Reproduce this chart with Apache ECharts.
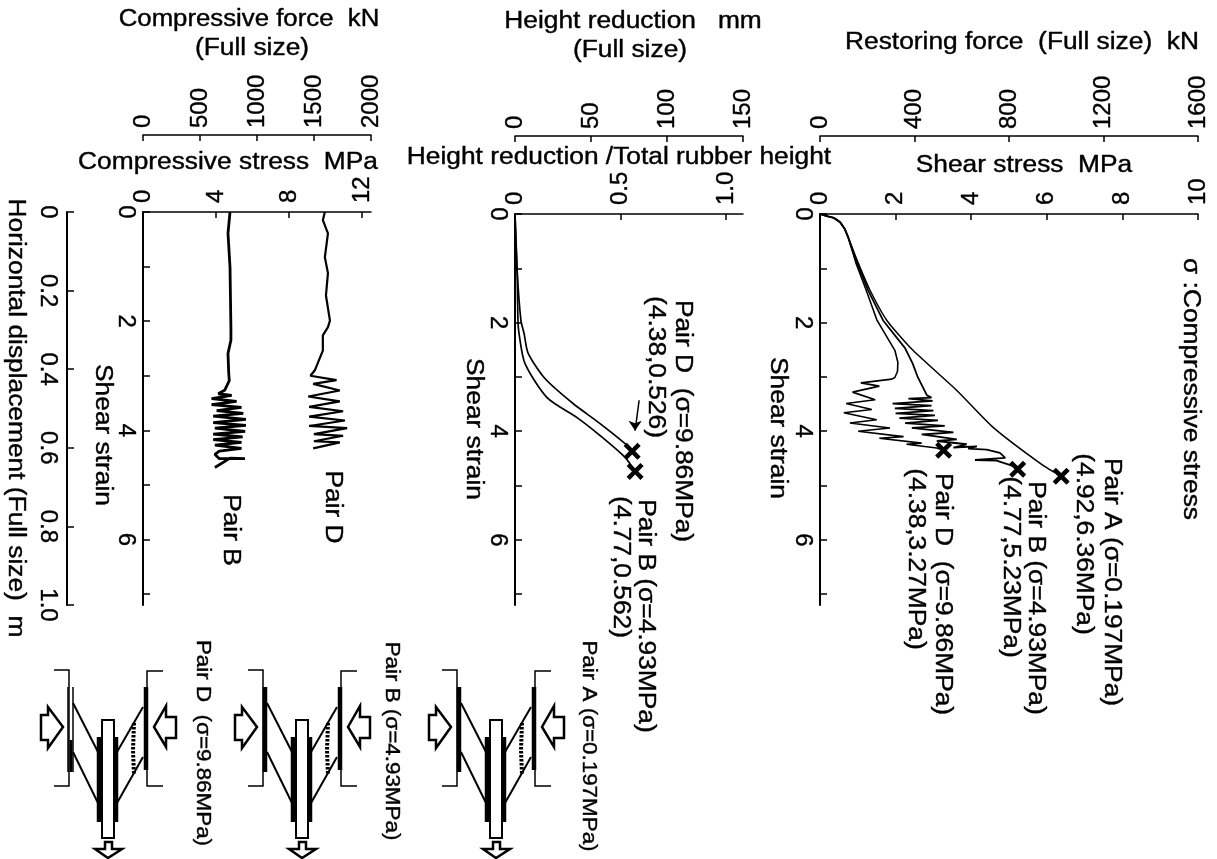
<!DOCTYPE html>
<html>
<head>
<meta charset="utf-8">
<title>Shear strain curves</title>
<style>
	html, body { margin: 0; padding: 0; background: #fff; }
	#main { width: 1217px; height: 859px; }
</style>
<script src="https://cdn.jsdelivr.net/npm/echarts@6/dist/echarts.min.js"></script>
</head>
<body>
<div id="main"></div>
<script>
// [shear stress MPa, shear strain]
var shearPairA = [[0,0],[.19,.04],[.36,.07],[.53,.15],[.65,.27],[.74,.42],[1.01,.9],[1.32,1.4],[1.77,1.96],[2.46,2.51],[3.62,3.25],[4.58,3.93],[5.9,4.63],[6.38,4.83]];
var shearPairB = [[0,0],[.19,.04],[.36,.07],[.53,.15],[.65,.27],[.74,.42],[.98,.9],[1.27,1.4],[1.67,1.96],[2.25,2.47],[2.45,2.75],[2.59,3.01],[2.83,3.34],[2.95,3.38],[2.34,3.4],[2.98,3.44],[1.92,3.49],[2.95,3.53],[1.98,3.58],[3,3.62],[2,3.67],[3.04,3.71],[2.1,3.76],[3.12,3.8],[2.25,3.85],[3.3,3.9],[2.43,3.94],[3.53,4.02],[2.69,4.06],[3.62,4.15],[3.09,4.18],[3.88,4.24],[3.53,4.3],[4.15,4.28],[3.92,4.32],[4.41,4.34],[4.76,4.4],[4.9,4.49],[4.1,4.53],[4.67,4.54],[5.16,4.65],[5.23,4.7]];
var shearPairD = [[0,0],[.19,.04],[.36,.07],[.53,.15],[.65,.27],[.74,.42],[.95,.9],[1.22,1.4],[1.51,1.96],[1.98,2.51],[2.06,2.73],[2.05,2.9],[1.98,3.01],[1.9,3.04],[1.08,3.11],[1.57,3.17],[.86,3.28],[1.46,3.42],[.69,3.49],[1.37,3.6],[.63,3.66],[1.5,3.79],[.79,3.85],[1.85,3.94],[1.01,4],[2.21,4.1],[1.57,4.13],[2.69,4.22],[2.29,4.24],[3.09,4.31],[3.27,4.35]];
var shearFailure = [[6.38,4.83],[5.23,4.7],[3.27,4.35]];

// [height reduction / total rubber height, shear strain]
var heightPairD = [[0,0],[.01,1.03],[.028,1.96],[.043,2.2],[.062,2.56],[.142,3.03],[.275,3.49],[.403,3.86],[.531,4.26],[.555,4.37]];
var heightPairB = [[0,0],[.01,1.03],[.014,1.96],[.019,2.2],[.047,2.75],[.152,3.38],[.294,3.75],[.403,4.08],[.521,4.48],[.569,4.74]];
var heightFailure = [[.555,4.37],[.569,4.74]];
var heightArrow = [[.588,3.43],[.569,3.99]];

// [compressive stress MPa, shear strain]
var compPairD = [[9.97,0],[9.86,.15],[10.14,.39],[9.97,.83],[10.14,1.12],[10.03,1.53],[10.25,1.99],[10.14,2.11],[9.86,2.26],[9.86,2.54],[9.42,2.9],[9.18,3],[10.61,3.08],[9.33,3.15],[10.79,3.27],[9.06,3.38],[10.79,3.47],[9.11,3.57],[10.97,3.65],[9.11,3.75],[11.07,3.82],[9.11,3.92],[11.19,3.96],[9.37,4.07],[10.97,4.1],[9.37,4.2],[10.79,4.22],[9.33,4.33]];
var compPairB = [[4.77,0],[4.66,.39],[4.77,1.01],[4.82,2.13],[4.82,2.35],[4.66,2.59],[4.7,2.95],[4.73,3.09],[4.49,3.26],[4.13,3.33],[4.86,3.36],[3.76,3.42],[5.13,3.47],[3.76,3.53],[5.4,3.58],[4.04,3.64],[5.5,3.69],[3.85,3.74],[5.64,3.8],[3.85,3.86],[5.64,3.91],[3.94,3.96],[5.6,4.02],[3.85,4.07],[5.46,4.12],[3.85,4.17],[5.4,4.22],[3.94,4.27],[5.4,4.33],[4.18,4.38],[3.94,4.44],[4.18,4.52],[5.59,4.52],[4.77,4.51],[3.94,4.68]];

// tick labels
var strainTicks = [0, 1, 2, 3, 4, 5, 6, 7];
var strainLabels = [0, 2, 4, 6];
var heightTicks = [0, 0.5, 1];
var compressiveTicks = [0, 4, 8, 12];

var FONT = '"Liberation Sans", Arial, sans-serif';
var CROSS = 'path://M0,3 L3,0 L8,5 L13,0 L16,3 L11,8 L16,13 L13,16 L8,11 L3,16 L0,13 L5,8 Z';

function plainNumber(v) {
	return String(v);
}

function decimalNumber(v) {
	return v === 0 ? '0' : v.toFixed(1);
}

function tickLabel(margin, extra) {
	var label = {
		rotate: -90,
		margin: margin,
		color: '#000',
		fontFamily: FONT,
		fontSize: 24,
		textBorderColor: '#000',
		textBorderWidth: 0.4,
		formatter: plainNumber
	};
	for (var k in extra) label[k] = extra[k];
	return label;
}

function topAxis(grid, max, interval, offset, ticks, formatter) {
	var labelExtra = {};
	var tick = { inside: true, length: 6, lineStyle: { color: '#000', width: 1.5 } };
	if (ticks) {
		tick.customValues = ticks;
		labelExtra.customValues = ticks;
	}
	if (formatter) labelExtra.formatter = formatter;
	return {
		type: 'value',
		gridIndex: grid,
		position: 'top',
		offset: offset,
		min: 0,
		max: max,
		interval: interval,
		splitLine: { show: false },
		axisLine: { onZero: false, lineStyle: { color: '#000', width: 1.5 } },
		axisTick: tick,
		axisLabel: tickLabel(offset ? 7 : 9, labelExtra)
	};
}

function strainAxis(grid) {
	return {
		type: 'value',
		gridIndex: grid,
		position: 'left',
		inverse: true,
		min: 0,
		max: 7.2,
		splitLine: { show: false },
		axisLine: { onZero: false, lineStyle: { color: '#000', width: 2 } },
		axisTick: { inside: true, length: 7, customValues: strainTicks, lineStyle: { color: '#000', width: 1.5 } },
		axisLabel: tickLabel(5, { customValues: strainLabels })
	};
}

function curve(x, y, data, width, smooth) {
	return {
		type: 'line',
		xAxisIndex: x,
		yAxisIndex: y,
		data: data,
		smooth: smooth || false,
		showSymbol: false,
		silent: true,
		animation: false,
		lineStyle: { color: '#000', width: width }
	};
}

function crosses(x, y, data) {
	return {
		type: 'scatter',
		xAxisIndex: x,
		yAxisIndex: y,
		data: data,
		symbol: CROSS,
		symbolSize: 17,
		silent: true,
		animation: false,
		itemStyle: { color: '#000', opacity: 1 }
	};
}

function txt(text, x, y, size, rotated) {
	return {
		type: 'text',
		x: x,
		y: y,
		rotation: rotated ? -Math.PI / 2 : 0,
		scaleX: 1.12,
		silent: true,
		style: {
			text: text,
			fill: '#000',
			stroke: '#000',
			lineWidth: 0.4,
			font: size + 'px ' + FONT,
			align: 'center',
			verticalAlign: 'middle',
			textAlign: 'center',
			textVerticalAlign: 'middle'
		}
	};
}

function poly(points, width, dx) {
	return {
		type: 'polyline',
		silent: true,
		x: dx,
		shape: { points: points },
		style: { stroke: '#000', lineWidth: width, fill: null }
	};
}

function hollow(points, dx) {
	return {
		type: 'polygon',
		silent: true,
		x: dx,
		shape: { points: points },
		style: { stroke: '#000', lineWidth: 2.5, fill: '#fff' }
	};
}

// schematic of the test pair, drawn around the pair D position and shifted by dx
function pairDiagram(dx, lightPlate) {
	var out = [
		poly([[54, 670], [69, 670], [69, 786], [54, 786]], 1.5, dx),
		poly([[163, 671], [147, 671], [147, 786], [163, 786]], 1.5, dx),
		poly([[73, 703], [98, 752]], 2, dx),
		poly([[73, 752], [98, 803]], 2, dx),
		poly([[143, 707], [117, 752]], 2, dx),
		poly([[143, 757], [117, 803]], 2, dx),
		poly([[99, 737], [99, 822]], 4.5, dx),
		poly([[116, 737], [116, 822]], 4.5, dx),
		{
			type: 'rect',
			silent: true,
			x: dx,
			shape: { x: 102, y: 720, width: 12, height: 118 },
			style: { stroke: '#000', lineWidth: 2, fill: '#fff' }
		},
		poly([[146, 687], [146, 770]], 4.5, dx),
		{
			type: 'polyline',
			silent: true,
			x: dx,
			shape: { points: [[134, 723], [133, 750], [134, 775]] },
			style: { stroke: '#000', lineWidth: 4, fill: null, lineDash: [2.5, 1.5] }
		},
		hollow([[41, 715], [48, 715], [48, 707], [63, 727], [48, 748], [48, 740], [41, 740]], dx),
		hollow([[176, 717], [166, 717], [166, 706], [154, 727], [166, 747], [166, 738], [176, 738]], dx),
		hollow([[105, 842], [112, 842], [112, 849], [122, 849], [108, 858], [95, 849], [105, 849]], dx)
	];
	if (lightPlate) {
		out.push(poly([[68, 687], [68, 772]], 1.5, dx));
		out.push(poly([[73, 687], [73, 772]], 1.5, dx));
		out.push(poly([[71, 740], [71, 772]], 3, dx));
	} else {
		out.push(poly([[71, 687], [71, 772]], 4.5, dx));
	}
	return out;
}

var texts = [
	txt('Restoring force  (Full size)  kN', 1022, 43, 23.5),
	txt('Shear stress  MPa', 1024, 166, 23.5),
	txt('\u03c3 :Compressive stress', 1190, 389, 23.5, true),
	txt('Pair A (\u03c3=0.197MPa)', 1111, 582, 23.5, true),
	txt('(4.92,6.36MPa)', 1083, 544, 23.5, true),
	txt('Pair B (\u03c3=4.93MPa)', 1035, 598, 23.5, true),
	txt('(4.77,5.23MPa)', 1010, 567, 23.5, true),
	txt('Pair D  (\u03c3=9.86MPa)', 942, 594, 23.5, true),
	txt('(4.38,3.27MPa)', 915, 559, 23.5, true),
	txt('Shear strain', 777, 428, 23.5, true),

	txt('Height reduction   mm', 633, 22, 23.5),
	txt('(Full size)', 630, 51, 23.5),
	txt('Height reduction /Total rubber height', 619, 158, 23.5),
	txt('Pair D  (\u03c3=9.86MPa)', 682, 421, 23.5, true),
	txt('(4.38,0.526)', 655, 367, 23.5, true),
	txt('Pair B (\u03c3=4.93MPa)', 645, 616, 23.5, true),
	txt('(4.77,0.562)', 620, 567, 23.5, true),
	txt('Shear strain', 473, 429, 23.5, true),

	txt('Compressive force  kN', 249, 20, 23),
	txt('(Full size)', 252, 49, 23.5),
	txt('Compressive stress  MPa', 228, 163, 23.5),
	txt('Pair D', 332, 507, 23.5, true),
	txt('Pair B', 230, 530, 23.5, true),
	txt('Shear strain', 102, 435, 23.5, true),
	txt('Horizontal displacement (Full size)  m', 15, 418, 23.5, true),

	txt('Pair A (\u03c3=0.197MPa)', 589, 746, 20, true),
	txt('Pair B (\u03c3=4.93MPa)', 392, 741, 20, true),
	txt('Pair D  (\u03c3=9.86MPa)', 203, 743, 20, true)
];

var diagrams = pairDiagram(0, true).concat(pairDiagram(194, false), pairDiagram(388, false));

var chart = echarts.init(document.getElementById('main'), null, { renderer: 'canvas' });

var option = {
	backgroundColor: '#fff',
	animation: false,
	grid: [
		{ left: 820, top: 214, width: 378, height: 391 },
		{ left: 515, top: 214, width: 228, height: 391 },
		{ left: 143, top: 212, width: 228, height: 393 }
	],
	xAxis: [
		topAxis(0, 10, 2, 0),
		topAxis(0, 1600, 400, 78),
		topAxis(1, 1.08, 0.5, 0, heightTicks, decimalNumber),
		topAxis(1, 150, 50, 78),
		topAxis(2, 12.5, 4, 0, compressiveTicks),
		topAxis(2, 2000, 500, 77)
	],
	yAxis: [
		strainAxis(0),
		strainAxis(1),
		strainAxis(2),
		{
			type: 'value',
			gridIndex: 2,
			position: 'left',
			offset: 76,
			inverse: true,
			min: 0,
			max: 1,
			interval: 0.2,
			splitLine: { show: false },
			axisLine: { onZero: false, lineStyle: { color: '#000', width: 2 } },
			axisTick: { inside: true, length: 7, lineStyle: { color: '#000', width: 1.5 } },
			axisLabel: tickLabel(7, { formatter: decimalNumber })
		}
	],
	series: [
		curve(0, 0, shearPairA, 1.5, 0.2),
		curve(0, 0, shearPairB, 1.8),
		curve(0, 0, shearPairD, 1.6),
		crosses(0, 0, shearFailure),
		curve(2, 1, heightPairD, 1.7, 0.25),
		curve(2, 1, heightPairB, 1.7, 0.25),
		crosses(2, 1, heightFailure),
		{
			type: 'line',
			xAxisIndex: 2,
			yAxisIndex: 1,
			data: heightArrow,
			showSymbol: false,
			silent: true,
			animation: false,
			lineStyle: { color: '#000', width: 1.5 },
			markPoint: {
				silent: true,
				symbol: 'arrow',
				symbolSize: 10,
				symbolRotate: 180,
				itemStyle: { color: '#000' },
				label: { show: false },
				data: [{ coord: heightArrow[1] }]
			}
		},
		curve(4, 2, compPairD, 2.2),
		curve(4, 2, compPairB, 2.8)
	],
	graphic: { elements: texts.concat(diagrams) }
};

chart.setOption(option);

window.onresize = function () {
	chart.resize();
};
</script>
</body>
</html>
